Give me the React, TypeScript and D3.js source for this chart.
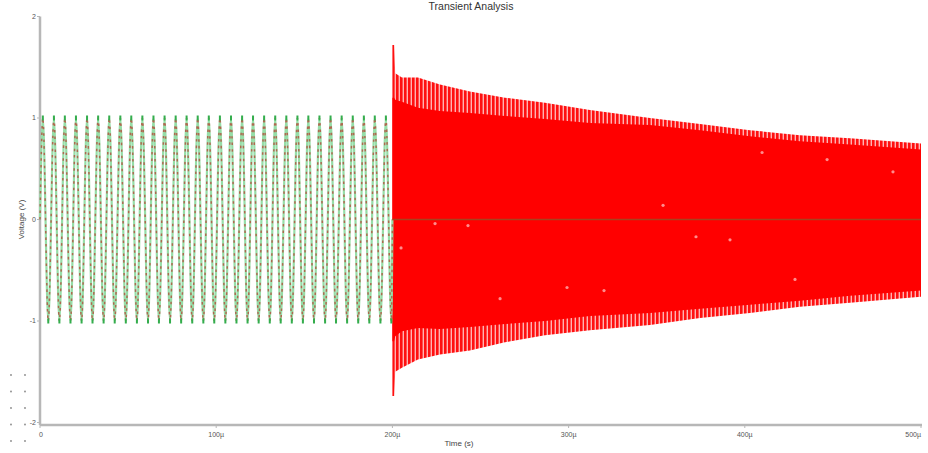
import React, { useEffect } from "react";
import * as d3 from "d3";

// source sine (V = ±1), times of the crests and troughs, in µs
const sourcePeakTimes = [
  1.6, 7.9, 14.1, 20.4, 26.7, 33.0, 39.3, 45.6, 51.8, 58.1, 64.4, 70.7, 77.0, 83.2, 89.5, 95.8,
  102.1, 108.4, 114.7, 120.9, 127.2, 133.5, 139.8, 146.1, 152.3, 158.6, 164.9, 171.2, 177.5, 183.8, 190.0, 196.3,
];
const sourceTroughTimes = [
  4.7, 11.0, 17.3, 23.6, 29.8, 36.1, 42.4, 48.7, 55.0, 61.3, 67.5, 73.8, 80.1, 86.4, 92.7, 98.9,
  105.2, 111.5, 117.8, 124.1, 130.4, 136.6, 142.9, 149.2, 155.5, 161.8, 168.0, 174.3, 180.6, 186.9, 193.2, 199.4,
];
const sourceAmplitude = 1;
// after the switch the source stays at 0 V
const sourceOffTimes = [200, 500];

// ringing output: edges of the red band (tips of the spikes and the solid part)
const envTimes = [200.0, 201.0, 201.6, 205.4, 214.5, 227.0, 244.0, 263.9, 286.6, 312.1, 346.2, 374.6, 402.9, 431.3, 459.7, 500.0];
const envUpperTip = [1.72, 1.72, 1.44, 1.4, 1.4, 1.33, 1.26, 1.2, 1.15, 1.08, 1.0, 0.94, 0.88, 0.83, 0.8, 0.75];
const envUpperBase = [1.2, 1.2, 1.18, 1.16, 1.1, 1.07, 1.05, 1.02, 0.99, 0.95, 0.93, 0.88, 0.82, 0.77, 0.74, 0.69];
const envLowerTip = [-1.74, -1.74, -1.5, -1.46, -1.38, -1.33, -1.29, -1.21, -1.14, -1.09, -1.04, -0.97, -0.92, -0.86, -0.82, -0.76];
const envLowerBase = [-1.2, -1.2, -1.15, -1.1, -1.07, -1.08, -1.06, -1.03, -1.0, -0.95, -0.92, -0.88, -0.84, -0.8, -0.75, -0.7];

// the faint sample markers seen inside the red band
const markerTimes = [204.9, 224.2, 242.9, 261.1, 299.1, 320.1, 353.6, 372.3, 391.6, 409.8, 428.5, 446.7, 484.1];
const markerValues = [-0.28, -0.04, -0.06, -0.78, -0.67, -0.7, 0.14, -0.17, -0.2, 0.66, -0.59, 0.59, 0.47];

const xTicks = [0, 100, 200, 300, 400, 500];
const xTickLabels = ["0", "100µ", "200µ", "300µ", "400µ", "500µ"];
const yTicks = [2, 1, 0, -1, -2];
const yTickLabels = ["2", "1", "0", "-1", "-2"];

const W = 928;
const H = 453;
const font = "'Liberation Sans', Arial, sans-serif";

export default function App() {
  useEffect(() => {
    document.body.style.margin = "0";
  }, []);

  const x = d3.scaleLinear().domain([0, 500]).range([40, 921]);
  const y = d3.scaleLinear().domain([-2, 2]).range([422.5, 16.5]);

  // build the source trace from the extrema
  const extrema = [
    ...sourcePeakTimes.map((t) => [t, sourceAmplitude]),
    ...sourceTroughTimes.map((t) => [t, -sourceAmplitude]),
  ].sort((a, b) => a[0] - b[0]);
  const sourceOn = [[0, 0], ...extrema, [200, 0]];
  const sourceOff = sourceOffTimes.map((t) => [t, 0]);

  const line = d3
    .line<number[]>()
    .x((d) => x(d[0]))
    .y((d) => y(d[1]))
    .curve(d3.curveMonotoneX);

  const env = envTimes.map((t, i) => ({
    t,
    ut: envUpperTip[i],
    ub: envUpperBase[i],
    lt: envLowerTip[i],
    lb: envLowerBase[i],
  }));
  type E = (typeof env)[number];
  const upperBand = d3.area<E>().x((d) => x(d.t)).y0(y(0)).y1((d) => y(d.ut));
  const lowerBand = d3.area<E>().x((d) => x(d.t)).y0(y(0)).y1((d) => y(d.lt));
  const solid = d3.area<E>().x((d) => x(d.t)).y0((d) => y(d.lb)).y1((d) => y(d.ub));

  const axisColor = "#b7b7b7";
  const x0 = x(0);
  const yBottom = y(-2) + 2.5;

  return (
    <svg width={W} height={H} style={{ display: "block", background: "#fff" }}>
      <defs>
        <pattern id="spikes" width="4" height="10" patternUnits="userSpaceOnUse">
          <rect width="4" height="10" fill="#ffb3b3" />
          <rect width="2.6" height="10" fill="#ff1010" />
        </pattern>
      </defs>

      {/* title */}
      <text x={471} y={10} fontFamily={font} fontSize={10.5} fill="#333" textAnchor="middle">
        Transient Analysis
      </text>

      {/* axes */}
      <line x1={x0} x2={x0} y1={y(2)} y2={yBottom} stroke={axisColor} strokeWidth={2.5} />
      <line x1={x0} x2={x(500) + 1} y1={yBottom} y2={yBottom} stroke={axisColor} strokeWidth={2.5} />
      {yTicks.map((v, i) => (
        <g key={"y" + v}>
          <line x1={x0 - 3} x2={x0} y1={y(v)} y2={y(v)} stroke={axisColor} strokeWidth={1} />
          <text x={x0 - 4} y={y(v)} dy="0.35em" fontFamily={font} fontSize={7} fill="#555" textAnchor="end">
            {yTickLabels[i]}
          </text>
        </g>
      ))}
      {xTicks.map((t, i) => (
        <g key={"x" + t}>
          <line x1={x(t)} x2={x(t)} y1={yBottom} y2={yBottom + 3} stroke={axisColor} strokeWidth={1} />
          <text
            x={x(t) + (i === 0 ? 1 : 0)}
            y={437}
            fontFamily={font}
            fontSize={7}
            fill="#555"
            textAnchor={i === xTicks.length - 1 ? "end" : "middle"}
          >
            {xTickLabels[i]}
          </text>
        </g>
      ))}
      <text x={459} y={446} fontFamily={font} fontSize={8} fill="#444" textAnchor="middle">
        Time (s)
      </text>
      <text
        transform={`translate(24,${y(0)}) rotate(-90)`}
        fontFamily={font}
        fontSize={8}
        fill="#444"
        textAnchor="middle"
      >
        Voltage (V)
      </text>

      {/* output ringing after the switch */}
      <path d={upperBand(env) ?? ""} fill="url(#spikes)" />
      <path d={lowerBand(env) ?? ""} fill="url(#spikes)" />
      <path d={solid(env) ?? ""} fill="#ff0000" />
      {markerTimes.map((t, i) => (
        <circle key={"m" + i} cx={x(t)} cy={y(markerValues[i])} r={1.6} fill="#ff8c8c" />
      ))}

      {/* source trace (green), seen through the red band after the switch */}
      <path d={line(sourceOn) ?? ""} fill="none" stroke="#96dea8" strokeWidth={2.2} />
      <path d={line(sourceOff) ?? ""} fill="none" stroke="#a8421e" strokeWidth={1.6} />
      {/* output trace before the switch follows the source (red dashes) */}
      <path
        d={line(sourceOn) ?? ""}
        fill="none"
        stroke="#b8362a"
        strokeOpacity={0.7}
        strokeWidth={1.5}
        strokeDasharray="2.5 4"
      />
      {extrema.map((d, i) => (
        <rect
          key={"e" + i}
          x={x(d[0]) - 1}
          y={y(d[1]) - 2.5}
          width={2}
          height={5}
          fill="#34ad4d"
        />
      ))}

      {/* remains of a legend at the lower left */}
      {[0, 1, 2, 3, 4].map((r) =>
        [11, 25].map((cx) => (
          <circle key={"l" + r + cx} cx={cx} cy={375 + r * 16.5} r={0.9} fill="#888" />
        ))
      )}
    </svg>
  );
}
